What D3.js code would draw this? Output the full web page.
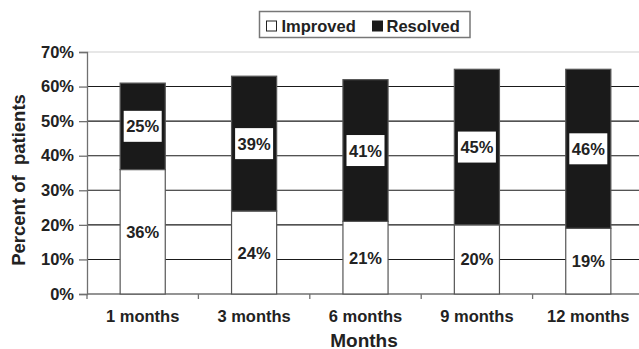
<!DOCTYPE html>
<html><head><meta charset="utf-8">
<script src="https://cdn.jsdelivr.net/npm/d3@7"></script>
<style>body{margin:0;background:#fff}svg{display:block}</style>
</head><body>
<script>
const categories = ["1 months","3 months","6 months","9 months","12 months"];
const improved = [36,24,21,20,19];
const resolved = [25,39,41,45,46];
const yTicks = [0,10,20,30,40,50,60,70];
const seriesNames = ["Improved","Resolved"];

const W=639,H=349;
const font="'Liberation Sans', Arial, sans-serif";
const svg=d3.select("body").append("svg").attr("width",W).attr("height",H).style("font-family",font);

const x=d3.scaleBand().domain(categories).range([87,644]).padding(0);
const y=d3.scaleLinear().domain([0,70]).range([294,52]);
const barW=x.bandwidth()*0.405;

// gridlines
svg.append("g").selectAll("line").data(yTicks.filter(d=>d>0)).join("line")
  .attr("x1",87).attr("x2",W).attr("y1",d=>y(d)).attr("y2",d=>y(d))
  .attr("stroke",d=>d===70?"#d0d0d0":"#1a1a1a").attr("stroke-width",1.1);

// y axis
const yAxis=d3.axisLeft(y).tickValues(yTicks).tickFormat(d=>d+"%").tickSize(8).tickPadding(5);
const gy=svg.append("g").attr("transform","translate(87,0)").call(yAxis);
gy.select(".domain").attr("stroke","#707070").attr("stroke-width",1.3);
gy.selectAll(".tick line").attr("stroke","#707070").attr("stroke-width",1.3);
gy.selectAll("text").attr("font-size","16.5px").attr("font-weight","bold").attr("fill","#222").attr("font-family",font);

// x axis
const gx=svg.append("g").attr("transform","translate(0,294)");
gx.append("line").attr("x1",87).attr("x2",W).attr("stroke","#707070").attr("stroke-width",1.3);
gx.selectAll("line.t").data(categories).join("line").attr("class","t")
  .attr("x1",d=>x(d)).attr("x2",d=>x(d)).attr("y1",0).attr("y2",5).attr("stroke","#707070").attr("stroke-width",1.3);
gx.selectAll("text").data(categories).join("text")
  .attr("x",d=>x(d)+x.bandwidth()/2).attr("y",27.5).attr("text-anchor","middle")
  .attr("font-size","16.5px").attr("font-weight","bold").attr("fill","#222").text(d=>d);

// bars
const bars=svg.append("g");
categories.forEach((c,i)=>{
  const cx=x(c)+x.bandwidth()/2;
  bars.append("rect").attr("x",cx-barW/2).attr("width",barW)
    .attr("y",y(improved[i])).attr("height",y(0)-y(improved[i]))
    .attr("fill","#fff").attr("stroke","#555").attr("stroke-width",1.2);
  bars.append("rect").attr("x",cx-barW/2).attr("width",barW)
    .attr("y",y(improved[i]+resolved[i])).attr("height",y(improved[i])-y(improved[i]+resolved[i]))
    .attr("fill","#1a1a1a").attr("stroke","#555").attr("stroke-width",1.2);
  [[improved[i],improved[i]/2],[resolved[i],improved[i]+resolved[i]/2]].forEach(([v,m])=>{
    const ly=y(m);
    bars.append("rect").attr("x",cx-19).attr("y",ly-15.5).attr("width",38).attr("height",31).attr("fill","#fff");
    bars.append("text").attr("x",cx).attr("y",ly+6).attr("text-anchor","middle")
      .attr("font-size","16.5px").attr("font-weight","bold").attr("fill","#222").text(v+"%");
  });
});

// axis titles
svg.append("text").attr("transform","translate(25,180) rotate(-90)").attr("text-anchor","middle")
  .attr("font-size","18.5px").attr("font-weight","bold").attr("fill","#222").attr("xml:space","preserve").style("white-space","pre").text("Percent of  patients");
svg.append("text").attr("x",364).attr("y",346.5).attr("text-anchor","middle")
  .attr("font-size","19px").attr("font-weight","bold").attr("fill","#222").text("Months");

// legend
const lg=svg.append("g");
lg.append("rect").attr("x",259.5).attr("y",11.5).attr("width",210.5).attr("height",26).attr("fill","#fff").attr("stroke","#777").attr("stroke-width",1.5);
lg.append("rect").attr("x",266.5).attr("y",21).attr("width",10).attr("height",10).attr("fill","#fff").attr("stroke","#222").attr("stroke-width",1);
lg.append("text").attr("x",281.5).attr("y",31.5).attr("font-size","16.5px").attr("font-weight","bold").attr("fill","#222").text(seriesNames[0]);
lg.append("rect").attr("x",372).attr("y",20.5).attr("width",11).attr("height",11).attr("fill","#1a1a1a");
lg.append("text").attr("x",386.5).attr("y",31.5).attr("font-size","16.5px").attr("font-weight","bold").attr("fill","#222").text(seriesNames[1]);
</script>
</body></html>
